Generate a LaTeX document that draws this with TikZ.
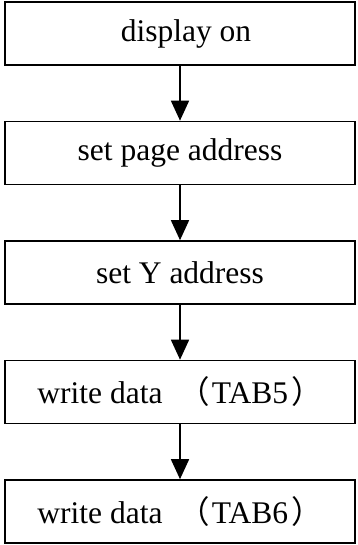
\documentclass[tikz,border=0pt]{standalone}
\usepackage{fontspec}
\setmainfont{Liberation Serif}
\newfontfamily\cjk{Noto Sans CJK SC}
\usetikzlibrary{arrows.meta,positioning}

\begin{document}
\begin{tikzpicture}[
    x=1pt, y=1pt,
    node distance=119.5pt,
    >={Triangle[length=20pt,width=18pt]},
    font=\fontsize{31.5}{36}\selectfont,
    stepbox/.style={
		rectangle,
		draw=black,
		line width=1.6pt,
		text centered,
		minimum height=63pt,
		minimum width=350pt,
		inner sep=0pt,
		fill=white
	},
	flow/.style={
		draw,
		line width=1.6pt,
		->
	}
  ]

 \useasboundingbox (0,0) rectangle (357,-545);

 \node [stepbox] (disp) at (180,-33.5) {\hspace*{12pt}display on};
 \node [stepbox, below of=disp] (page) {set page address};
 \node [stepbox, below of=page] (yaddr) {set Y address};
 \node [stepbox, below of=yaddr] (tabfive) {write data\ \ {\cjk （}\kern2pt TAB5\kern3pt{\cjk ）}};
 \node [stepbox, below of=tabfive] (tabsix) {write data\ \ {\cjk （}\kern2pt TAB6\kern3pt{\cjk ）}};

 \draw [flow] (disp) -- (page);
 \draw [flow] (page) -- (yaddr);
 \draw [flow] (yaddr) -- (tabfive);
 \draw [flow] (tabfive) -- (tabsix);

\end{tikzpicture}
\end{document}
